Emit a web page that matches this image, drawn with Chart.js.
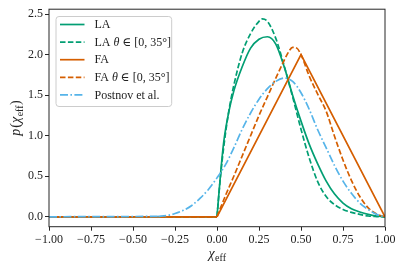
<!DOCTYPE html>
<html>
<head>
<meta charset="utf-8">
<script src="https://cdn.jsdelivr.net/npm/chart.js@4.4.0/dist/chart.umd.min.js"></script>
<style>
  html, body { margin: 0; padding: 0; background: #fff; }
  #wrap { width: 404px; height: 270px; }
</style>
</head>
<body>
<div id="wrap"><canvas id="chart" width="404" height="270"></canvas></div>
<script>
// series data
const labels = ['LA', 'LA θ ∈ [0, 35°]', 'FA', 'FA θ ∈ [0, 35°]', 'Postnov et al.'];

const laX = [0, 0.02, 0.04, 0.07, 0.1, 0.15, 0.2, 0.25, 0.3, 0.35, 0.4, 0.45, 0.5, 0.55, 0.6, 0.65, 0.7, 0.75, 0.8, 0.85, 0.9, 0.95, 1];
const laY = [0, 0.50, 0.92, 1.29, 1.55, 1.85, 2.08, 2.19, 2.22, 2.13, 1.85, 1.50, 1.18, 0.89, 0.65, 0.44, 0.28, 0.17, 0.10, 0.06, 0.03, 0.01, 0];

const laThX = [0, 0.02, 0.04, 0.07, 0.1, 0.15, 0.2, 0.25, 0.27, 0.3, 0.35, 0.4, 0.45, 0.5, 0.55, 0.6, 0.65, 0.7, 0.75, 0.8, 0.85, 0.9, 0.95, 1];
const laThY = [0, 0.48, 0.86, 1.30, 1.62, 2.02, 2.26, 2.41, 2.44, 2.41, 2.20, 1.86, 1.48, 1.08, 0.72, 0.43, 0.25, 0.15, 0.09, 0.055, 0.03, 0.01, 0.003, 0];

const faX = [0, 0.5, 1];
const faY = [0, 2.0, 0];

const faThX = [0, 0.05, 0.1, 0.15, 0.2, 0.25, 0.3, 0.35, 0.4, 0.425, 0.45, 0.475, 0.5, 0.55, 0.6, 0.65, 0.7, 0.75, 0.8, 0.85, 0.9, 0.95, 1];
const faThY = [0, 0.26, 0.50, 0.75, 1.00, 1.25, 1.48, 1.71, 1.93, 2.03, 2.09, 2.08, 2.00, 1.73, 1.51, 1.30, 0.99, 0.70, 0.45, 0.25, 0.11, 0.035, 0];

const poX = [-0.35, -0.3, -0.25, -0.2, -0.15, -0.1, -0.05, 0, 0.05, 0.1, 0.15, 0.2, 0.25, 0.3, 0.35, 0.4, 0.45, 0.5, 0.55, 0.6, 0.65, 0.7, 0.75, 0.8, 0.85, 0.9, 0.95, 1];
const poY = [0.005, 0.015, 0.04, 0.08, 0.14, 0.23, 0.34, 0.48, 0.64, 0.85, 1.08, 1.28, 1.45, 1.58, 1.67, 1.71, 1.67, 1.53, 1.32, 1.07, 0.85, 0.63, 0.44, 0.29, 0.17, 0.09, 0.03, 0];

// flat zero parts left of each support
const baseX = [-1, 0];
const baseY = [0, 0];
const poBaseX = [-1, -0.35];
const poBaseY = [0, 0.005];

const xTicks = [-1, -0.75, -0.5, -0.25, 0, 0.25, 0.5, 0.75, 1];
const yTicks = [0, 0.5, 1, 1.5, 2, 2.5];

const green = '#029e73';
const orange = '#d55e00';
const blue = '#56b4e9';
const axisColor = '#262626';
const serif = '"Liberation Serif", "DejaVu Serif", serif';

const solid = [];
const dashed = [5.5, 2.4];
const dashDot = [8, 2.4, 1.6, 2.4];

function pts(xs, ys) {
    return xs.map((x, i) => ({x: x, y: ys[i]}));
}

function minus(s) {
    return s.replace('-', '\u2212');
}

function series(label, xs, ys, color, dash, order, smooth) {
    return {
        label: label,
        data: pts(xs, ys),
        borderColor: color,
        borderDash: dash,
        borderWidth: 1.7,
        pointRadius: 0,
        fill: false,
        cubicInterpolationMode: smooth ? 'monotone' : 'default',
        tension: 0,
        order: order,
        inLegend: label !== ''
    };
}

const datasets = [
    series(labels[0], laX, laY, green, solid, 5, true),
    series(labels[1], laThX, laThY, green, dashed, 4, true),
    series(labels[2], faX, faY, orange, solid, 3, false),
    series(labels[3], faThX, faThY, orange, dashed, 2, true),
    series(labels[4], poX, poY, blue, dashDot, 1, true),
    series('', baseX, baseY, green, solid, 5, false),
    series('', baseX, baseY, green, dashed, 4, false),
    series('', baseX, baseY, orange, solid, 3, false),
    series('', baseX, baseY, orange, dashed, 2, false),
    series('', poBaseX, poBaseY, blue, dashDot, 1, false)
];

// frame, legend box and axis titles (matplotlib look)
const decor = {
    id: 'decor',
    afterDatasetsDraw(chart) {
        const {ctx, chartArea: a} = chart;
        ctx.save();
        ctx.strokeStyle = axisColor;
        ctx.lineWidth = 1;
        ctx.strokeRect(a.left, a.top, a.right - a.left, a.bottom - a.top);
        ctx.restore();
    },
    afterDraw(chart) {
        const ctx = chart.ctx;
        const a = chart.chartArea;
        ctx.save();

        // legend
        const bx = a.left + 7, by = a.top + 7.3, bw = 115.7, bh = 90, r = 3;
        ctx.beginPath();
        ctx.roundRect(bx, by, bw, bh, r);
        ctx.fillStyle = 'rgba(255,255,255,0.8)';
        ctx.fill();
        ctx.strokeStyle = '#cccccc';
        ctx.lineWidth = 1;
        ctx.stroke();

        chart.data.datasets.filter(d => d.inLegend).forEach((d, i) => {
            const y = by + 8 + i * 17.6;
            ctx.beginPath();
            ctx.setLineDash(d.borderDash);
            ctx.strokeStyle = d.borderColor;
            ctx.lineWidth = d.borderWidth;
            ctx.moveTo(bx + 4, y);
            ctx.lineTo(bx + 28.5, y);
            ctx.stroke();
            ctx.setLineDash([]);

            let tx = bx + 38.5;
            ctx.fillStyle = '#222';
            ctx.textBaseline = 'middle';
            d.label.split(/(θ)/).forEach(part => {
                if (!part) return;
                ctx.font = (part === 'θ' ? 'italic ' : '') + '12px ' + serif;
                ctx.fillText(part, tx, y + 0.5);
                tx += ctx.measureText(part).width;
            });
        });

        // x title: chi_eff
        ctx.fillStyle = '#222';
        ctx.textBaseline = 'alphabetic';
        const cx = (a.left + a.right) / 2;
        ctx.font = 'italic 14px ' + serif;
        const wChi = ctx.measureText('χ').width;
        ctx.font = '10px ' + serif;
        const wSub = ctx.measureText('eff').width;
        const x0 = cx - (wChi + wSub) / 2;
        ctx.font = 'italic 14px ' + serif;
        ctx.fillText('χ', x0, 258);
        ctx.font = '10px ' + serif;
        ctx.fillText('eff', x0 + wChi + 0.5, 260.5);

        // y title: p(chi_eff)
        ctx.translate(20, (a.top + a.bottom) / 2);
        ctx.rotate(-Math.PI / 2);
        const parts = [
            ['italic 14px ', 'p', 0, 1],
            ['14px ', '(', 0, 0],
            ['italic 14px ', 'χ', 0, 0.5],
            ['10px ', 'eff', 2.5, 0.5],
            ['14px ', ')', 0, 0]
        ];
        let total = 0;
        parts.forEach(p => { ctx.font = p[0] + serif; total += ctx.measureText(p[1]).width + p[3]; });
        let px = -total / 2;
        parts.forEach(p => {
            ctx.font = p[0] + serif;
            ctx.fillText(p[1], px, p[2]);
            px += ctx.measureText(p[1]).width + p[3];
        });
        ctx.restore();
    }
};

const chart = new Chart(document.getElementById('chart').getContext('2d'), {
    type: 'line',
    data: {datasets: datasets},
    options: {
        responsive: false,
        animation: false,
        devicePixelRatio: 1,
        layout: {padding: {top: 7, right: 19, left: 0, bottom: 0}},
        plugins: {
            legend: {display: false},
            tooltip: {enabled: false}
        },
        scales: {
            x: {
                type: 'linear',
                min: -1,
                max: 1,
                afterBuildTicks: s => { s.ticks = xTicks.map(v => ({value: v})); },
                afterFit: s => { s.height = 43.3; },
                grid: {drawOnChartArea: false, drawTicks: true, tickLength: 4, color: axisColor, lineWidth: 1},
                border: {display: false},
                ticks: {
                    color: '#222',
                    padding: 2,
                    maxRotation: 0,
                    font: {family: serif, size: 12},
                    callback: v => minus(v.toFixed(2))
                }
            },
            y: {
                type: 'linear',
                min: -0.122,
                max: 2.56,
                afterBuildTicks: s => { s.ticks = yTicks.map(v => ({value: v})); },
                afterFit: s => { s.width = 49; },
                grid: {drawOnChartArea: false, drawTicks: true, tickLength: 4, color: axisColor, lineWidth: 1},
                border: {display: false},
                ticks: {
                    color: '#222',
                    padding: 2,
                    font: {family: serif, size: 12},
                    callback: v => v.toFixed(1)
                }
            }
        }
    },
    plugins: [decor]
});
</script>
</body>
</html>
